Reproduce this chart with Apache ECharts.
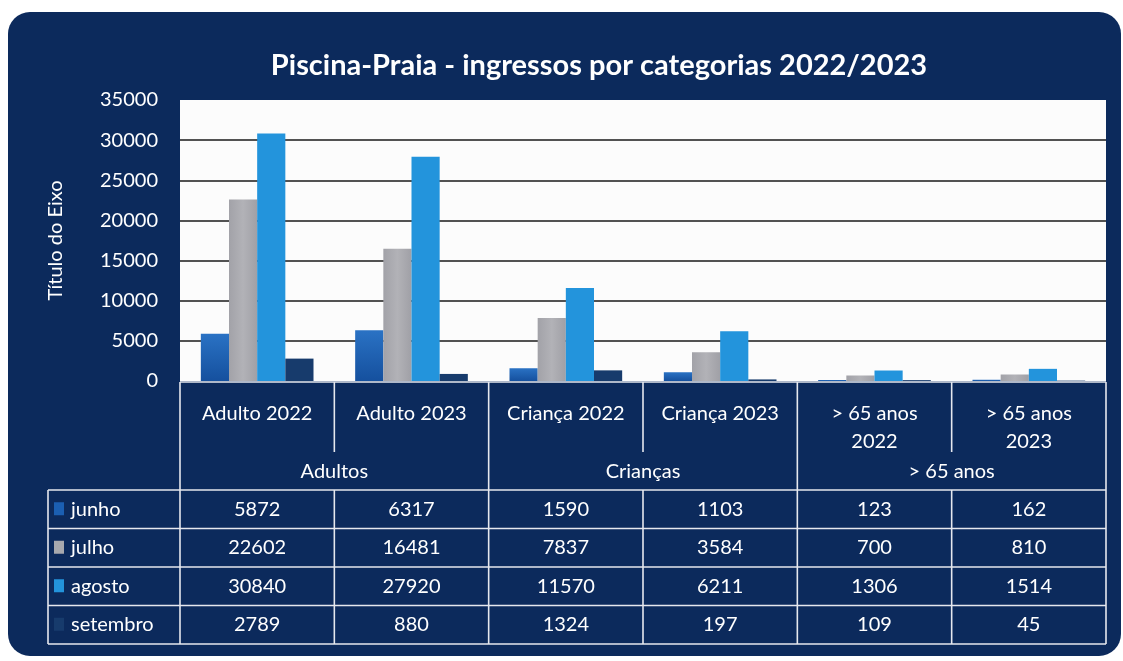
<!DOCTYPE html>
<html>
<head>
<meta charset="utf-8">
<script src="https://cdn.jsdelivr.net/npm/echarts@6/dist/echarts.min.js"></script>
<style>
  body { margin: 0; background: #fff; }
  #panel { position: absolute; left: 8px; top: 12px; width: 1113px; height: 644px; background: #0c2a5c; border-radius: 22px; }
  #chart { position: absolute; left: 0; top: 0; width: 1123px; height: 661px; }
</style>
</head>
<body>
<div id="panel"></div>
<div id="chart"></div>
<script>
// dados
var categories = ['Adulto 2022', 'Adulto 2023', 'Criança 2022', 'Criança 2023', '> 65 anos\n2022', '> 65 anos\n2023'];
var groups = ['Adultos', 'Crianças', '> 65 anos'];
var months = ['junho', 'julho', 'agosto', 'setembro'];
var junho = [5872, 6317, 1590, 1103, 123, 162];
var julho = [22602, 16481, 7837, 3584, 700, 810];
var agosto = [30840, 27920, 11570, 6211, 1306, 1514];
var setembro = [2789, 880, 1324, 197, 109, 45];

var FONT = 'Lato, "Open Sans", sans-serif';
var colors = ['#1b5fb2', '#a8a9ae', '#2394dc', '#173b6c'];

var chart = echarts.init(document.getElementById('chart'));

var option = {
  backgroundColor: 'transparent',
  animation: false,
  title: {
    text: 'Piscina-Praia - ingressos por categorias 2022/2023',
    left: 594,
    top: 46,
    textAlign: 'center',
    textStyle: { color: '#fff', fontSize: 29, fontWeight: 'bold', fontFamily: FONT }
  },
  grid: {
    left: 180,
    right: 17,
    top: 100,
    bottom: 280,
    show: true,
    backgroundColor: '#fcfcfc',
    borderWidth: 0
  },
  xAxis: {
    type: 'category',
    data: categories,
    axisLabel: { show: false },
    axisLine: { show: false },
    axisTick: { show: false }
  },
  yAxis: {
    type: 'value',
    min: 0,
    max: 35000,
    interval: 5000,
    name: 'Título do Eixo',
    nameLocation: 'middle',
    nameRotate: 90,
    nameGap: 114,
    nameTextStyle: { color: '#fff', fontSize: 20, fontFamily: FONT },
    axisLabel: {
      color: '#fff', fontSize: 20, fontFamily: FONT, margin: 22,
      formatter: function (v) { return String(v); }
    },
    axisLine: { show: false },
    axisTick: { show: false },
    splitLine: {
      show: true,
      lineStyle: {
        color: ['transparent', '#1a1a1a', '#1a1a1a', '#1a1a1a', '#1a1a1a', '#1a1a1a', '#1a1a1a', 'transparent'],
        width: 1.6
      }
    }
  },
  series: [
    {
      name: 'junho', type: 'bar', data: junho, barGap: '0%', barCategoryGap: '27%',
      itemStyle: {
        color: new echarts.graphic.LinearGradient(0, 0, 0, 1, [
          { offset: 0, color: '#2a72c4' },
          { offset: 1, color: '#15509e' }
        ])
      }
    },
    {
      name: 'julho', type: 'bar', data: julho,
      itemStyle: {
        color: new echarts.graphic.LinearGradient(0, 0, 1, 0, [
          { offset: 0, color: '#a2a2a8' },
          { offset: 0.5, color: '#b2b2b7' },
          { offset: 1, color: '#a0a0a6' }
        ])
      }
    },
    { name: 'agosto', type: 'bar', data: agosto, itemStyle: { color: colors[2] } },
    { name: 'setembro', type: 'bar', data: setembro, itemStyle: { color: colors[3] } }
  ]
};

chart.setOption(option);

// tabela de dados por baixo do gráfico
function buildTable() {
  var centers = categories.map(function (c, i) {
    return chart.convertToPixel({ xAxisIndex: 0 }, i);
  });
  var bw = centers[1] - centers[0];
  var edges = [centers[0] - bw / 2];
  centers.forEach(function (c) { edges.push(c + bw / 2); });

  var yTop = 382, yShort = 452, yRows = 490, rowH = 38.5;
  var yBottom = yRows + rowH * months.length;
  var legendLeft = 48;
  var lineStyle = { stroke: '#e6e8ee', lineWidth: 1.6 };
  var els = [];

  function line(x1, y1, x2, y2) {
    els.push({ type: 'line', shape: { x1: x1, y1: y1, x2: x2, y2: y2 }, style: lineStyle, z: 10 });
  }
  function text(t, x, y, align, vAlign) {
    els.push({
      type: 'text', z: 11,
      style: {
        text: t, x: x, y: y, fill: '#fff', font: '20px ' + FONT,
        align: align || 'center', verticalAlign: vAlign || 'middle', lineHeight: 28
      }
    });
  }

  // linhas
  line(edges[0], yTop, edges[6], yTop);
  [0, 2, 4, 6].forEach(function (i) { line(edges[i], yTop, edges[i], yBottom); });
  [1, 3, 5].forEach(function (i) {
    line(edges[i], yTop, edges[i], yShort);
    line(edges[i], yRows, edges[i], yBottom);
  });
  for (var r = 0; r <= months.length; r++) {
    line(legendLeft, yRows + r * rowH, edges[6], yRows + r * rowH);
  }
  line(legendLeft, yRows, legendLeft, yBottom);

  // cabeçalhos
  categories.forEach(function (c, i) { text(c, centers[i], 400, 'center', 'top'); });
  groups.forEach(function (g, k) { text(g, edges[2 * k + 1], 472); });

  // linhas de valores
  var rows = [junho, julho, agosto, setembro];
  rows.forEach(function (vals, r) {
    var cy = yRows + r * rowH + rowH / 2;
    els.push({ type: 'rect', z: 11, shape: { x: 54, y: cy - 7, width: 10, height: 13 }, style: { fill: colors[r] } });
    text(months[r], 71, cy, 'left');
    vals.forEach(function (v, i) { text(String(v), centers[i], cy); });
  });

  chart.setOption({ graphic: { elements: els } });
}

buildTable();
</script>
</body>
</html>
